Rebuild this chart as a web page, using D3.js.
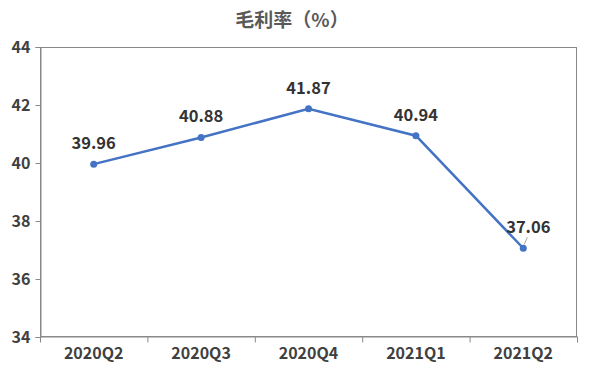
<!DOCTYPE html>
<html><head><meta charset="utf-8">
<script src="https://cdn.jsdelivr.net/npm/d3@7"></script>
<style>body{margin:0;background:#fff}svg{display:block}text{font-family:"Noto Sans CJK SC","Open Sans",sans-serif;font-weight:bold}</style>
</head><body><svg id="c" width="591" height="374"></svg>
<script>
const categories = ["2020Q2","2020Q3","2020Q4","2021Q1","2021Q2"];
const values = [39.96, 40.88, 41.87, 40.94, 37.06];
const yTicks = [34, 36, 38, 40, 42, 44];
const title = "毛利率（%）";

const svg = d3.select("#c");
const m = {l:40, r:14, t:47, b:37};
const W = 591, H = 374;
const x = d3.scaleBand().domain(categories).range([m.l, W-m.r]);
const y = d3.scaleLinear().domain([34,44]).range([H-m.b, m.t]);
const axisColor = "#898989";

svg.append("text").attr("x", 292).attr("y", 27).attr("text-anchor","middle")
  .attr("font-size", 19).attr("fill","#595959").text(title);

svg.append("rect").attr("x", m.l+0.5).attr("y", m.t+0.5)
  .attr("width", W-m.r-m.l-1).attr("height", H-m.b-m.t-1)
  .attr("fill","none").attr("stroke", axisColor).attr("stroke-width",1);

const ya = svg.append("g").attr("transform",`translate(${m.l+0.5},0)`)
  .call(d3.axisLeft(y).tickValues(yTicks).tickSize(5).tickPadding(5).tickFormat(d3.format("d")));
ya.select(".domain").attr("stroke", axisColor);
ya.selectAll(".tick line").attr("stroke", axisColor);
ya.selectAll(".tick text").attr("font-size",16).attr("fill","#404040").attr("font-family",null).attr("dy","0.35em");

const xa = svg.append("g").attr("transform",`translate(0,${H-m.b-0.5})`)
  .call(d3.axisBottom(x).tickSize(0).tickPadding(11));
xa.select(".domain").attr("stroke", axisColor);
xa.selectAll(".tick text").attr("font-size",16).attr("fill","#404040").attr("font-family",null);
const bounds = categories.map(c => x(c)).concat([x.range()[1]]);
xa.selectAll(".bt").data(bounds).enter().append("line")
  .attr("x1", d=>d+0.5).attr("x2", d=>d+0.5).attr("y1",0).attr("y2",6).attr("stroke", axisColor);

const cx = d => x(d) + x.bandwidth()/2;
const line = d3.line().x((d,i)=>cx(categories[i])).y(d=>y(d));
svg.append("path").datum(values).attr("d", line).attr("fill","none")
  .attr("stroke","#4472C4").attr("stroke-width",2.5);
svg.selectAll(".pt").data(values).enter().append("circle")
  .attr("cx",(d,i)=>cx(categories[i])).attr("cy",d=>y(d)).attr("r",3.5).attr("fill","#4472C4");

const last = values.length-1;
svg.append("line").attr("x1", cx(categories[last])+1).attr("y1", y(values[last])-4)
  .attr("x2", cx(categories[last])+4).attr("y2", y(values[last])-11)
  .attr("stroke","#a6a6a6").attr("stroke-width",1);

svg.selectAll(".lbl").data(values).enter().append("text")
  .attr("x",(d,i)=>cx(categories[i]) + (i===last?5:0))
  .attr("y",d=>y(d)-15).attr("text-anchor","middle")
  .attr("font-size",16.5).attr("fill","#333333").text(d=>d.toFixed(2));
</script></body></html>
